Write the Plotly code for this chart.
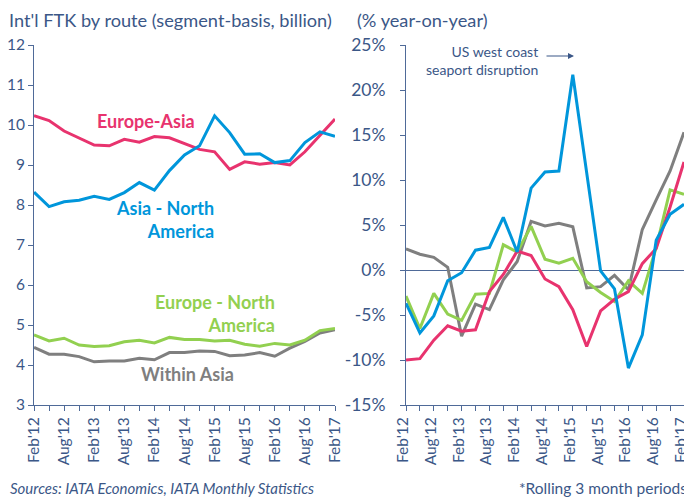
import plotly.graph_objects as go

# ---------------- data ----------------
periods = ["Feb'12", "May'12", "Aug'12", "Nov'12", "Feb'13", "May'13", "Aug'13", "Nov'13",
           "Feb'14", "May'14", "Aug'14", "Nov'14", "Feb'15", "May'15", "Aug'15", "Nov'15",
           "Feb'16", "May'16", "Aug'16", "Nov'16", "Feb'17"]

# Left panel: Int'l FTK (billion)
ftk_europe_asia = [10.23, 10.11, 9.85, 9.67, 9.50, 9.48, 9.64, 9.57, 9.71, 9.68, 9.54,
                   9.39, 9.33, 8.89, 9.08, 9.02, 9.06, 9.00, 9.33, 9.75, 10.15]
ftk_asia_na = [8.32, 7.96, 8.08, 8.12, 8.22, 8.14, 8.31, 8.56, 8.37, 8.86, 9.25,
               9.48, 10.23, 9.81, 9.27, 9.28, 9.06, 9.11, 9.56, 9.83, 9.72]
ftk_europe_na = [4.75, 4.60, 4.67, 4.50, 4.46, 4.48, 4.58, 4.62, 4.55, 4.69, 4.64,
                 4.64, 4.60, 4.62, 4.52, 4.47, 4.54, 4.50, 4.62, 4.86, 4.91]
ftk_within_asia = [4.44, 4.27, 4.27, 4.21, 4.08, 4.10, 4.10, 4.17, 4.13, 4.31, 4.31,
                   4.35, 4.34, 4.23, 4.25, 4.31, 4.22, 4.42, 4.59, 4.80, 4.88]

# Right panel: % year-on-year (rolling 3 months)
yoy_asia_na = [-3.7, -7.0, -5.1, -1.2, -0.3, 2.2, 2.5, 5.85, 2.0, 9.1, 10.9,
               11.0, 21.7, 10.8, -0.1, -2.1, -10.9, -7.2, 3.3, 6.2, 7.3]
yoy_europe_asia = [-10.0, -9.85, -7.8, -6.2, -6.8, -6.65, -2.4, -0.5, 2.1, 1.6, -1.0,
                   -1.85, -4.4, -8.5, -4.55, -3.25, -2.4, 0.7, 2.4, 7.0, 12.0]
yoy_europe_na = [-2.9, -6.5, -2.6, -4.9, -5.6, -2.7, -2.6, 2.8, 2.0, 4.85, 1.2,
                 0.75, 1.3, -1.3, -2.5, -3.5, -1.2, -2.6, 2.5, 8.9, 8.4]
yoy_within_asia = [2.35, 1.75, 1.4, 0.3, -7.35, -3.8, -4.4, -1.1, 0.95, 5.4, 4.9,
                   5.2, 4.8, -2.0, -1.85, -0.6, -2.2, 4.5, 7.8, 11.0, 15.3]

left_ticks = [3, 4, 5, 6, 7, 8, 9, 10, 11, 12]
right_ticks = [-15, -10, -5, 0, 5, 10, 15, 20, 25]

# ---------------- style ----------------
OFF = 8                      # page body margin
W, H = 692 - OFF, 497 - OFF  # figure size so that it fits the window
PINK = "#E8336E"
BLUE = "#0096DB"
GREEN = "#92D050"
GRAY = "#7F7F7F"
TXT = "#3B5787"
AXC = "#4F6A98"
FONT = "Lato"

def px(x):
    """page x pixel -> paper fraction"""
    return (x - OFF) / W

def py(y):
    """page y pixel -> paper fraction"""
    return 1 - (y - OFF) / H

idx = list(range(len(periods)))
ticktext = [p if p.startswith(("Feb", "Aug")) else "" for p in periods]

fig = go.Figure()

def add(x, y, color, xa, ya):
    fig.add_trace(go.Scatter(x=x, y=y, mode="lines", line=dict(color=color, width=3),
                             xaxis=xa, yaxis=ya, showlegend=False, hoverinfo="skip"))

add(idx, ftk_within_asia, GRAY, "x", "y")
add(idx, ftk_europe_na, GREEN, "x", "y")
add(idx, ftk_europe_asia, PINK, "x", "y")
add(idx, ftk_asia_na, BLUE, "x", "y")

add(idx, yoy_within_asia, GRAY, "x2", "y2")
add(idx, yoy_europe_na, GREEN, "x2", "y2")
add(idx, yoy_europe_asia, PINK, "x2", "y2")
add(idx, yoy_asia_na, BLUE, "x2", "y2")

xcommon = dict(range=[0, 20], tickmode="array", tickvals=idx, ticktext=ticktext,
               tickangle=-90, ticks="outside", ticklen=5, tickcolor=AXC, automargin=False,
               showline=True, linecolor=AXC, linewidth=1, showgrid=False, zeroline=False,
               ticklabeloverflow="allow",
               tickfont=dict(family=FONT, size=15.5, color=TXT), fixedrange=True)
ycommon = dict(ticks="outside", ticklen=5, tickcolor=AXC, showline=True, linecolor=AXC,
               linewidth=1, showgrid=False, fixedrange=True, automargin=False)

y0, y1 = py(405), py(45)
fig.update_layout(
    template="none",
    width=W, height=H, margin=dict(l=0, r=0, t=0, b=0, pad=0, autoexpand=False),
    paper_bgcolor="white", plot_bgcolor="white", showlegend=False,
    xaxis=dict(domain=[px(34), px(335)], anchor="y", **xcommon),
    yaxis=dict(domain=[y0, y1], anchor="x", range=[3, 12], tickvals=left_ticks,
               zeroline=False, ticklabelstandoff=0,
               tickfont=dict(family=FONT, size=15.5, color=TXT), **ycommon),
    xaxis2=dict(domain=[px(406), px(684)], anchor="y2", ticklabelshift=-3, **xcommon),
    yaxis2=dict(domain=[y0, y1], anchor="x2", range=[-15, 25], tickvals=right_ticks,
                ticktext=[f"{v}%" for v in right_ticks], zeroline=True,
                zerolinecolor=AXC, zerolinewidth=1, ticklabelstandoff=11,
                tickfont=dict(family=FONT, size=17.5, color=TXT), **ycommon),
)

def note(text, x, y, color, size, bold=False, xanchor="center", align="center", italic=False):
    t = f"<b>{text}</b>" if bold else text
    t = f"<i>{t}</i>" if italic else t
    fig.add_annotation(text=t, x=px(x), y=py(y), xref="paper", yref="paper",
                       xanchor=xanchor, yanchor="middle", align=align, showarrow=False,
                       font=dict(family=FONT, size=size, color=color))

note("Int'l FTK by route (segment-basis, billion)", 7, 20, TXT, 18.2, xanchor="left")
note("(% year-on-year)", 355, 20, TXT, 18.2, xanchor="left")
note("Europe-Asia", 146, 121, PINK, 18, bold=True)
note("Asia - North<br>America", 216, 219, BLUE, 18, bold=True, xanchor="right", align="right")
note("Europe - North<br>America", 277, 313, GREEN, 18, bold=True, xanchor="right", align="right")
note("Within Asia", 187, 374, GRAY, 18, bold=True)
note("US west coast<br>seaport disruption", 540, 61, TXT, 14, xanchor="right", align="right")
note("Sources: IATA Economics, IATA Monthly Statistics", 8, 488, TXT, 15, xanchor="left", italic=True)
note("*Rolling 3 month periods", 689, 488, TXT, 15.5, xanchor="right")

fig.add_annotation(x=px(574), y=py(56), ax=-29, ay=0, xref="paper", yref="paper",
                   axref="pixel", ayref="pixel", showarrow=True, arrowhead=2, arrowsize=1,
                   arrowwidth=1.2, arrowcolor=TXT, text="")

fig.write_html("out.html")
